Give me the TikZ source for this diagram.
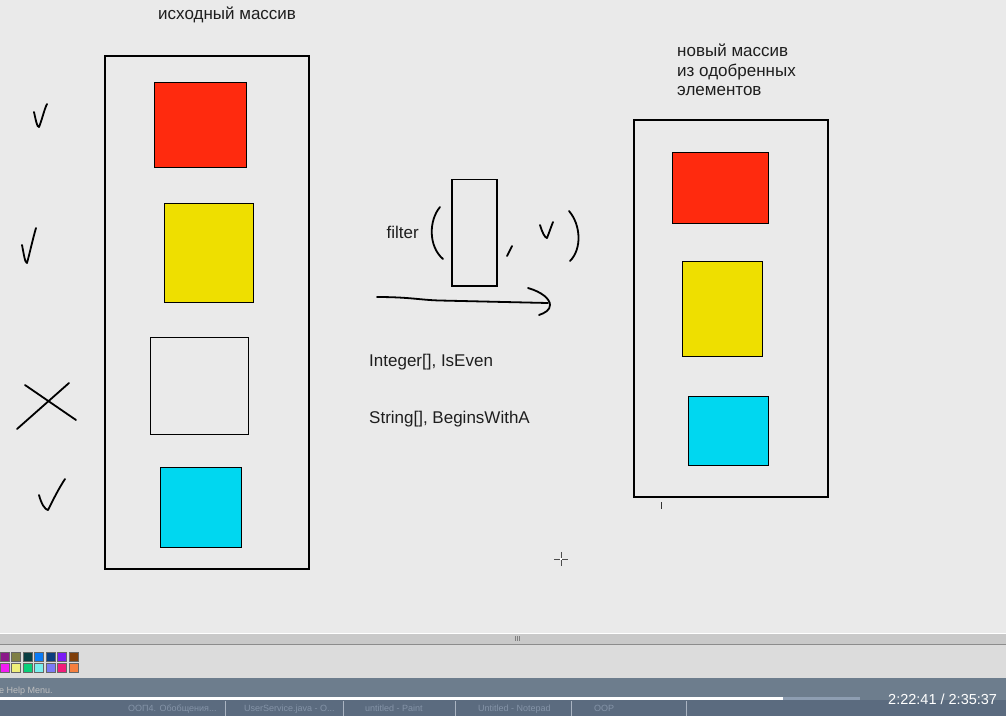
\documentclass[tikz,border=0pt]{standalone}
\usepackage{fontspec}
\setmainfont{Liberation Sans}
\definecolor{bgc}{HTML}{EAEAEA}
\definecolor{redc}{HTML}{FF2A0E}
\definecolor{yelc}{HTML}{EEDF00}
\definecolor{cyanc}{HTML}{00D7F0}
\definecolor{textc}{HTML}{1E1E1E}
\definecolor{barc}{HTML}{C9C9C9}
\definecolor{palc}{HTML}{DCDCDC}
\definecolor{statc}{HTML}{6D7D8D}
\definecolor{taskc}{HTML}{5B6B7F}
\definecolor{taskt}{HTML}{8594A8}
\definecolor{progc}{HTML}{8E9EB2}
\begin{document}
\begin{tikzpicture}[x=1pt,y=-1pt,
  frame/.style={draw=black,line width=1.3pt},
  sq/.style={draw=black,line width=1pt},
  hand/.style={draw=black,line width=1.8pt,line cap=round,line join=round},
  txt/.style={font=\fontsize{17}{19.5}\selectfont,text=textc,inner sep=0pt,anchor=base west},
  small/.style={font=\fontsize{9}{10}\selectfont,inner sep=0pt,anchor=base west},
  cell/.style={draw=black!60,line width=0.5pt}]
\useasboundingbox (0,0) rectangle (1006,716);
% canvas
\fill[bgc] (0,0) rectangle (1006,633);
% texts
\node[txt] (t1) at (158,19.5) {исходный массив};
\node[txt] (t2) at (677,56.7) {новый массив};
\node[txt] (t3) at (677,76.3) {из одобренных};
\node[txt] (t4) at (677,95.5) {элементов};
\node[txt] (tf) at (386.5,238) {filter};
\node[txt] (ti) at (369,366) {Integer[], IsEven};
\node[txt] (ts) at (369,423) {String[], BeginsWithA};
% left array
\draw[frame] (105,56) rectangle (309,569);
\draw[sq,fill=redc] (154,82) rectangle (246,167);
\draw[sq,fill=yelc] (164,203) rectangle (253,302);
\draw[sq] (150,337) rectangle (248,434);
\draw[sq,fill=cyanc] (160,467) rectangle (241,547);
% marks on the left
\draw[hand] (34,112) .. controls (36,121) and (37,127) .. (39,127) .. controls (42,120) and (44,110) .. (47,104);
\draw[hand] (22,245) .. controls (24,255) and (25,263) .. (27,263) .. controls (30,252) and (33,238) .. (36,228);
\draw[hand] (25,385) -- (76,420);
\draw[hand] (17,429) -- (69,383);
\draw[hand] (39,495) .. controls (41,503) and (45,510) .. (48,510) .. controls (53,500) and (59,488) .. (65,479);
% filter expression
\draw[hand] (440,207) .. controls (429,220) and (428,246) .. (443,259);
\draw[frame] (452,179.5) rectangle (497,286);
\draw[hand] (512,246) -- (507,256);
\draw[hand] (540,225) .. controls (542,232) and (545,238) .. (547,238) .. controls (549,233) and (551,227) .. (553,222);
\draw[hand] (569,211) .. controls (581,225) and (582,249) .. (570,261);
% arrow
\draw[hand] (377,297) .. controls (410,297) and (420,300) .. (440,300.5) -- (548,303);
\draw[hand] (528,288) .. controls (542,292) and (550,299) .. (550,305) .. controls (550,310) and (545,313) .. (539,315);
% right array
\draw[frame] (634,120) rectangle (828,497);
\draw[sq,fill=redc] (672,152) rectangle (768,223);
\draw[sq,fill=yelc] (682,261) rectangle (762,356);
\draw[sq,fill=cyanc] (688,396) rectangle (768,465);
\draw[line width=1.6pt,draw=black!80] (661.5,502) -- (661.5,509);
% cursor
\draw[line width=1pt,draw=black!70] (554,559) -- (568,559) (561,552) -- (561,566);
\fill[white] (560,558) rectangle (562,560);
% paint UI
\fill[barc] (0,633) rectangle (1006,645);
\draw[white,line width=0.8pt] (0,633.5) -- (1006,633.5);
\draw[black!45,line width=0.6pt] (0,644.6) -- (1006,644.6);
\draw[black!50,line width=0.5pt] (515,636) -- (515,641) (517,636) -- (517,641) (519,636) -- (519,641);
\fill[palc] (0,645) rectangle (1006,678);
\foreach \x/\ca/\cb in {0/8B1A89/F21CF3, 11.5/7F7F45/EFEF7A, 23/0A3F43/0ACF7A, 34.5/0A7AF5/7AEFEF, 46/0B3E7E/7A7AF5, 57.5/7B1BF5/F21C7A, 69/7F3F0B/F57F3F}{
  \definecolor{ca}{HTML}{\ca}\definecolor{cb}{HTML}{\cb}
  \draw[cell,fill=ca] (\x,652) rectangle ++(9,9.5);
  \draw[cell,fill=cb] (\x,663) rectangle ++(9,9.5);
}
\fill[statc] (0,678) rectangle (1006,700);
\node[small,text=black!25] (help) at (-1,693) {e Help Menu.};
\fill[taskc] (0,700) rectangle (1006,716);
\fill[white] (0,697) rectangle (783,700);
\fill[progc] (783,697) rectangle (860,700);
\node[font=\fontsize{14.5}{16}\selectfont,text=white,inner sep=0pt,anchor=base west] (time) at (888,704) {2:22:41 / 2:35:37};
\foreach \x in {225,343,455,571,686}{\draw[taskt!70,line width=0.5pt] (\x,701) -- (\x,716);}
\node[small,text=taskt] (k1) at (128,711) {ООП4. Обобщения...};
\node[small,text=taskt] (k2) at (244,711) {UserService.java - O...};
\node[small,text=taskt] (k3) at (365,711) {untitled - Paint};
\node[small,text=taskt] (k4) at (478,711) {Untitled - Notepad};
\node[small,text=taskt] (k5) at (594,711) {OOP};
\end{tikzpicture}
\end{document}
